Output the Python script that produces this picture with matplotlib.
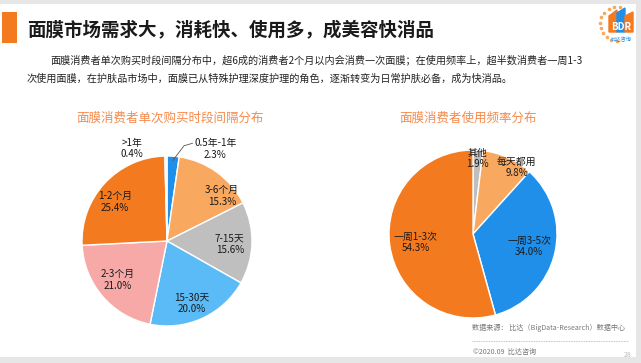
import matplotlib.pyplot as plt
import matplotlib.patches as mpatches
import numpy as np

plt.rcParams['font.family'] = ['Noto Sans CJK SC', 'DejaVu Sans']

# left pie: purchase interval
left_labels = ["0.5年-1年", "3-6个月", "7-15天", "15-30天", "2-3个月", "1-2个月", ">1年"]
left_values = [2.3, 15.3, 15.6, 20.0, 21.0, 25.4, 0.4]
left_colors = ["#1F8FEA", "#F9A860", "#BFBFBF", "#5BBBF7", "#F7A9A8", "#F47A20", "#EDEDED"]
left_text_pos = [(0.57, 1.08), (0.65, 0.53), (0.74, -0.04), (0.29, -0.73),
                 (-0.58, -0.46), (-0.61, 0.46), (-0.41, 1.09)]

# right pie: usage frequency
right_labels = ["其他", "每天都用", "一周3-5次", "一周1-3次"]
right_values = [1.9, 9.8, 34.0, 54.3]
right_colors = ["#BFBFBF", "#F9A860", "#1F8FEA", "#F47A20"]
right_text_pos = [(0.05, 0.90), (0.52, 0.79), (0.67, -0.15), (-0.68, -0.10)]

W, H = 641, 363
fig = plt.figure(figsize=(W / 100, H / 100), dpi=100)
fig.patch.set_facecolor("#E6E6E6")


def px(x, y):
    return x / W, 1 - y / H


# white page as a background axes
bg = fig.add_axes([0, 0, 1, 1], zorder=-10)
bg.set_xlim(0, W)
bg.set_ylim(H, 0)
bg.axis("off")
bg.add_patch(mpatches.Rectangle((0, 4), 636, 353, facecolor="white", edgecolor="none"))
# orange bar next to title
bg.add_patch(mpatches.Rectangle((2, 12), 15, 31, facecolor="#F47A20", edgecolor="none"))
# dotted rule above copyright
bg.plot([472, 628], [341, 341], color="#AAAAAA", linewidth=0.6, linestyle=(0, (1, 1)))

fig.text(*px(27, 30), "面膜市场需求大，消耗快、使用多，成美容快消品", fontsize=13.3,
         fontweight="bold", color="#1A1A1A", va="center", ha="left")
fig.text(*px(50, 60), "面膜消费者单次购买时段间隔分布中，超6成的消费者2个月以内会消费一次面膜；在使用频率上，超半数消费者一周1-3",
         fontsize=7.3, color="#222222", va="center", ha="left")
fig.text(*px(27, 79), "次使用面膜，在护肤品市场中，面膜已从特殊护理深度护理的角色，逐渐转变为日常护肤必备，成为快消品。",
         fontsize=7.3, color="#222222", va="center", ha="left")

# logo
lax = fig.add_axes([595 / W, 1 - 46 / H, 42 / W, 42 / H])
lax.set_xlim(0, 42)
lax.set_ylim(0, 42)
lax.axis("off")
th = np.linspace(np.pi * 0.45, np.pi * 1.5, 11)
lax.scatter(22 + 17 * np.cos(th), 22 + 17 * np.sin(th), s=2.5, color="#F9A860")
lax.add_patch(mpatches.Polygon([(14, 14), (14, 30), (22, 36), (22, 14)], color="#F47A20"))
lax.add_patch(mpatches.Polygon([(22, 14), (22, 33), (30, 38), (30, 14)], color="#1F8FEA"))
lax.add_patch(mpatches.Polygon([(30, 14), (30, 30), (38, 34), (38, 14)], color="#F47A20"))
lax.text(26, 19, "BDR", fontsize=7, color="white", fontweight="bold", ha="center", va="center")
lax.text(26, 7, "比达咨询", fontsize=3.8, color="#1F8FEA", ha="center", va="center")


def draw_pie(cx, cy, r, values, labels, colors, text_pos, title, tx, ty):
    ax = fig.add_axes([(cx - r) / W, 1 - (cy + r) / H, 2 * r / W, 2 * r / H])
    ax.pie(values, colors=colors, startangle=90, counterclock=False,
           wedgeprops=dict(edgecolor="white", linewidth=1))
    ax.set_xlim(-1, 1)
    ax.set_ylim(-1, 1)
    ax.set_aspect("equal")
    ax.axis("off")
    for lab, v, (x, y) in zip(labels, values, text_pos):
        ax.text(x, y, f"{lab}\n{v:.1f}%", fontsize=7.1, color="#1A1A1A",
                ha="center", va="center", linespacing=1.2, clip_on=False)
    fig.text(*px(tx, ty), title, fontsize=9, color="#F58B4C", ha="center", va="center")
    return ax


lax1 = draw_pie(167, 241, 85, left_values, left_labels, left_colors, left_text_pos,
                "面膜消费者单次购买时段间隔分布", 170, 118)
# leader line for small slice
mid = np.deg2rad(90 - 360 * left_values[0] / 2 / 100)
lax1.plot([0.95 * np.cos(mid), 0.2, 0.3], [0.95 * np.sin(mid), 1.12, 1.15],
          color="#555555", linewidth=0.6, clip_on=False)

draw_pie(473, 234, 84, right_values, right_labels, right_colors, right_text_pos,
         "面膜消费者使用频率分布", 468, 118)

fig.text(*px(472, 328), "数据来源： 比达（BigData-Research）数据中心", fontsize=5.1,
         color="#777777", ha="left", va="center")
fig.text(*px(473, 352), "©2020.09  比达咨询", fontsize=5.1, color="#777777", ha="left", va="center")
fig.text(*px(628, 355), "28", fontsize=5, color="#BBBBBB", ha="center", va="center")

fig.savefig("out.png", dpi=100, facecolor=fig.get_facecolor())
